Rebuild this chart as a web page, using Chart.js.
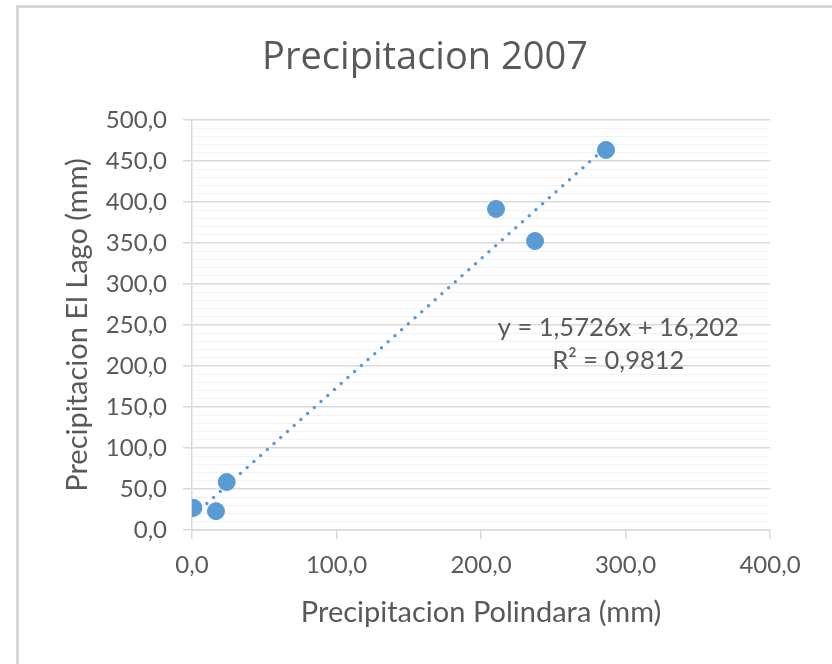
<!DOCTYPE html>
<html>
<head>
<meta charset="utf-8">
<script src="https://cdn.jsdelivr.net/npm/chart.js@4/dist/chart.umd.min.js"></script>
<style>
  html, body { margin: 0; padding: 0; background: #ffffff; }
  #wrap { width: 832px; height: 664px; position: relative; }
</style>
</head>
<body>
<div id="wrap"><canvas id="c" width="832" height="664"></canvas></div>
<script>
// ---- data ----
const polindara = [1.0, 16.6, 24.0, 210.4, 237.4, 286.5];   // x: Precipitacion Polindara (mm)
const elLago    = [27.0, 23.0, 58.5, 391.5, 352.4, 463.4];  // y: Precipitacion El Lago (mm)
const trendSlope = 1.5726;
const trendIntercept = 16.202;
const trendR2 = 0.9812;
const xTicks = [0, 100, 200, 300, 400];
const yTicks = [0, 50, 100, 150, 200, 250, 300, 350, 400, 450, 500];
const titleText = 'Precipitacion 2007';
const xTitle = 'Precipitacion Polindara (mm)';
const yTitle = 'Precipitacion El Lago (mm)';

// ---- helpers ----
const fmt = v => v.toFixed(1).replace('.', ',');
const fmtNum = (v, d) => v.toFixed(d).replace('.', ',');
const TEXT = '#595959';
const MAJOR = '#D9D9D9';
const MINOR = '#F2F2F2';
const BLUE = '#5B9BD5';
const FONT = 'Lato, "Noto Sans", sans-serif';

const points = polindara.map((x, i) => ({ x: x, y: elLago[i] }));
const xMin = Math.min(...polindara), xMax = Math.max(...polindara);
const trend = [xMin, xMax].map(x => ({ x: x, y: trendSlope * x + trendIntercept }));

const frame = {
  id: 'frame',
  beforeDraw(chart) {
    const ctx = chart.ctx;
    ctx.save();
    ctx.fillStyle = '#ffffff';
    ctx.fillRect(0, 0, chart.width, chart.height);
    ctx.strokeStyle = MAJOR;
    ctx.lineWidth = 3;
    ctx.strokeRect(17.5, 6.5, 1000, 1000);
    ctx.restore();
  }
};

const eqLabel = {
  id: 'eqLabel',
  afterDatasetsDraw(chart) {
    const ctx = chart.ctx;
    const xs = chart.scales.x, ys = chart.scales.y;
    const cx = xs.getPixelForValue(295);
    const y1 = ys.getPixelForValue(246);
    const y2 = ys.getPixelForValue(206.5);
    ctx.save();
    ctx.fillStyle = TEXT;
    ctx.font = '25.5px ' + FONT;
    ctx.textAlign = 'center';
    ctx.textBaseline = 'middle';
    ctx.fillText('y = ' + fmtNum(trendSlope, 4) + 'x + ' + fmtNum(trendIntercept, 3), cx, y1);
    ctx.fillText('R² = ' + fmtNum(trendR2, 4), cx, y2);
    ctx.restore();
  }
};

new Chart(document.getElementById('c'), {
  type: 'scatter',
  data: {
    datasets: [
      {
        label: 'El Lago',
        data: points,
        backgroundColor: BLUE,
        borderColor: BLUE,
        borderWidth: 1,
        pointRadius: 8.5,
        pointHoverRadius: 8.5,
        order: 0
      },
      {
        label: 'Tendencia',
        data: trend,
        showLine: true,
        borderColor: BLUE,
        borderWidth: 3.5,
        borderDash: [0, 9],
        borderCapStyle: 'round',
        pointRadius: 0,
        fill: false,
        order: 1
      }
    ]
  },
  plugins: [frame, eqLabel],
  options: {
    responsive: false,
    animation: false,
    devicePixelRatio: 1,
    layout: { padding: { top: 0, left: 18, right: 0, bottom: 0 } },
    plugins: {
      legend: { display: false },
      tooltip: { enabled: false },
      title: {
        display: true,
        text: titleText,
        color: TEXT,
        font: { family: '"Open Sans", sans-serif', size: 38, weight: 'normal', lineHeight: 1.2 },
        padding: { top: 35.2, bottom: 39.2 }
      }
    },
    scales: {
      x: {
        type: 'linear',
        min: 0, max: 400,
        afterBuildTicks(scale) { scale.ticks = xTicks.map(v => ({ value: v })); },
        afterFit(scale) { scale.height = 134; },
        grid: { drawOnChartArea: false, drawTicks: true, tickLength: 9, color: MAJOR, tickColor: MAJOR, lineWidth: 1.5 },
        border: { display: true, color: MAJOR, width: 1.5 },
        ticks: { color: TEXT, font: { family: FONT, size: 24 }, padding: 12, callback: v => fmt(v), maxRotation: 0, autoSkip: false },
        title: { display: true, text: xTitle, color: TEXT, font: { family: FONT, size: 29, lineHeight: 1.2 }, padding: { top: 0, bottom: 33.6 } }
      },
      y: {
        type: 'linear',
        min: 0, max: 500,
        afterBuildTicks(scale) {
          const t = [];
          for (let v = 0; v <= 500; v += 10) t.push({ value: v });
          scale.ticks = t;
        },
        afterFit(scale) { scale.width = 174; },
        grid: {
          drawOnChartArea: true, drawTicks: true, tickLength: 9,
          color: c => (c.tick && c.tick.value % 50 === 0) ? MAJOR : MINOR,
          tickColor: c => (c.tick && c.tick.value % 50 === 0) ? MAJOR : 'rgba(0,0,0,0)',
          lineWidth: c => (c.tick && c.tick.value % 50 === 0) ? 1.5 : 1
        },
        border: { display: true, color: MAJOR, width: 1.5 },
        ticks: {
          color: TEXT, font: { family: FONT, size: 24 }, padding: 16, autoSkip: false,
          callback: v => yTicks.includes(v) ? fmt(v) : ''
        },
        title: { display: true, text: yTitle, color: TEXT, font: { family: FONT, size: 29, lineHeight: 1.2 }, padding: { top: 42.6, bottom: 0 } }
      },
      rightSpace: {
        type: 'linear',
        position: 'right',
        min: 0, max: 1,
        afterFit(scale) { scale.width = 62; },
        grid: { display: false, drawTicks: false },
        border: { display: false },
        ticks: { display: false }
      }
    }
  }
});
</script>
</body>
</html>
